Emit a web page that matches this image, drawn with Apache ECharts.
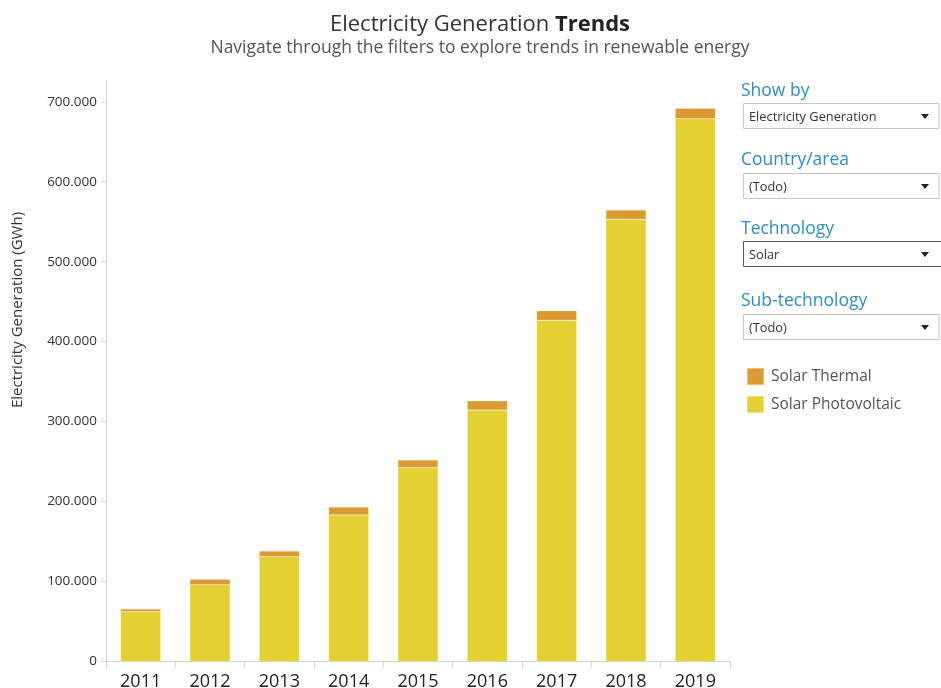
<!DOCTYPE html>
<html>
<head>
<meta charset="utf-8">
<title>Electricity Generation Trends</title>
<script src="https://cdn.jsdelivr.net/npm/echarts@6/dist/echarts.min.js"></script>
<style>
  html, body { margin: 0; padding: 0; background: #fff; }
  #chart { width: 941px; height: 688px; }
</style>
</head>
<body>
<div id="chart"></div>
<script>
// Solar electricity generation by year (GWh)
const years = ['2011', '2012', '2013', '2014', '2015', '2016', '2017', '2018', '2019'];
const solarPhotovoltaic = [62300, 96000, 131000, 183200, 242300, 314500, 426700, 553000, 678800];
const solarThermal = [3300, 6800, 7200, 10000, 9700, 11600, 12000, 11600, 13000];
const yTicks = [0, 100000, 200000, 300000, 400000, 500000, 600000, 700000];

// Filter panel entries (label, current selection)
const filterLabels = ['Show by', 'Country/area', 'Technology', 'Sub-technology'];
const filterValues = ['Electricity Generation', '(Todo)', 'Solar', '(Todo)'];

const FONT = '"Open Sans", "Noto Sans", sans-serif';
const COLOR_PV = '#E5D032';
const COLOR_TH = '#DC9A33';
const BLUE = '#2C8FC6';

// thousands separator as a dot: 700000 -> 700.000
function fmt(v) {
  return String(Math.round(v)).replace(/\B(?=(\d{3})+(?!\d))/g, '.');
}

// Layout of the filter panel
const labelY = [91, 160, 229, 301];
const boxY = [103, 173, 241, 314];
const filterGraphics = [];
filterLabels.forEach((lab, i) => {
  const active = i === 2;
  filterGraphics.push({
    type: 'text', x: 741, y: labelY[i],
    style: { text: lab, fill: BLUE, font: '17.5px ' + FONT, verticalAlign: 'middle' }
  });
  filterGraphics.push({
    type: 'rect',
    shape: { x: 743.5, y: boxY[i] + 0.5, width: active ? 200 : 195.5, height: 25 },
    style: { fill: '#fff', stroke: active ? '#555' : '#c6c6c6', lineWidth: 1 }
  });
  filterGraphics.push({
    type: 'text', x: 749, y: boxY[i] + 14,
    style: { text: filterValues[i], fill: '#333', font: '12.8px ' + FONT, verticalAlign: 'middle' }
  });
  filterGraphics.push({
    type: 'polygon',
    shape: { points: [[921, boxY[i] + 11], [929, boxY[i] + 11], [925, boxY[i] + 16]] },
    style: { fill: '#222' }
  });
});

const chart = echarts.init(document.getElementById('chart'));
chart.setOption({
  backgroundColor: '#fff',
  animation: false,
  title: {
    left: 475, top: 9, textAlign: 'center',
    text: '{n|Electricity Generation }{b|Trends}',
    textStyle: {
      rich: {
        n: { fontFamily: FONT, fontSize: 22, color: '#333', fontWeight: 'normal' },
        b: { fontFamily: FONT, fontSize: 22, color: '#222', fontWeight: 'bold' }
      }
    },
    subtext: 'Navigate through the filters to explore trends in renewable energy',
    subtextStyle: { fontFamily: FONT, fontSize: 17.5, color: '#555' },
    itemGap: 3
  },
  legend: {
    orient: 'vertical',
    left: 746, top: 367, padding: 0,
    itemWidth: 17, itemHeight: 17, itemGap: 9,
    icon: 'rect',
    data: ['Solar Thermal', 'Solar Photovoltaic'],
    textStyle: { fontFamily: FONT, fontSize: 15.5, color: '#555', padding: [4, 0, 0, 2] },
    selectedMode: false
  },
  grid: { left: 106, right: 211, top: 80, bottom: 26.5, containLabel: false, outerBoundsMode: 'none' },
  xAxis: {
    type: 'category',
    data: years,
    axisLine: { lineStyle: { color: '#d4d4d4', width: 1 } },
    axisTick: { show: true, alignWithLabel: false, length: 6, lineStyle: { color: '#d4d4d4' } },
    axisLabel: { fontFamily: FONT, fontSize: 18, color: '#222', margin: 11 }
  },
  yAxis: {
    type: 'value',
    min: 0, max: 727200, interval: 100000,
    splitLine: { show: false },
    axisLine: { show: true, lineStyle: { color: '#d8d8d8', width: 1 } },
    axisTick: { show: true, length: 5, lineStyle: { color: '#d8d8d8' } },
    axisLabel: {
      fontFamily: FONT, fontSize: 13.5, color: '#333', margin: 9,
      showMaxLabel: false,
      formatter: v => (yTicks.indexOf(v) >= 0 ? fmt(v) : '')
    }
  },
  graphic: [
    {
      type: 'text', x: 18, y: 310, rotation: Math.PI / 2,
      style: {
        text: 'Electricity Generation (GWh)', fill: '#333',
        font: '15px ' + FONT, align: 'center', verticalAlign: 'middle'
      }
    }
  ].concat(filterGraphics),
  series: [
    {
      name: 'Solar Photovoltaic', type: 'bar', stack: 'solar',
      data: solarPhotovoltaic, barWidth: '58%',
      itemStyle: { color: COLOR_PV, borderColor: 'rgba(255,255,255,0.35)', borderWidth: 0.5 }
    },
    {
      name: 'Solar Thermal', type: 'bar', stack: 'solar',
      data: solarThermal, barWidth: '58%',
      itemStyle: { color: COLOR_TH, borderColor: 'rgba(255,255,255,0.35)', borderWidth: 0.5 }
    }
  ]
});
</script>
</body>
</html>
